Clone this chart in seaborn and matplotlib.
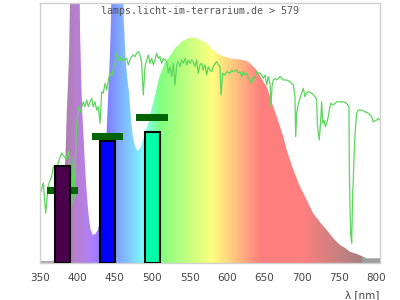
import numpy as np
import matplotlib
matplotlib.use("Agg")
import matplotlib.pyplot as plt
import seaborn as sns
import pandas as pd

# ---- data ----
lamp_nm = [350, 368, 371, 375, 379, 382, 384.5, 385.8, 387.3, 388.8, 389.8, 391.5, 394, 397, 400,
           402, 403.5, 405, 406.5, 408, 409.5, 411.5, 413.5, 415.5, 417.5, 420.5, 424, 427, 429.3,
           432, 435, 437.5, 439, 440.5, 442, 443.5, 445, 447, 451, 456, 460, 461.8, 463.2, 464.6,
           466, 467.5, 469, 470.5, 472, 474, 476.5, 478.5, 480.5, 482.5, 485, 488, 491.2, 495.6,
           497.8, 502.2, 506.6, 509.5, 513.2, 516, 519.8, 526.4, 530.9, 535.3, 539.3, 544.2, 550.5,
           559.5, 563.9, 572.9, 577.3, 581.3, 590.7, 604, 617.4, 626.4, 630.8, 639.7, 648.6, 653.1,
           657.5, 661.9, 666.5, 670.9, 675.3, 679.8, 684.3, 688.7, 697.6, 706.6, 715.4, 724.4,
           733.3, 742.2, 751.1, 757.8, 764.5, 773.4, 782.3, 786.8, 804.6]
lamp_val = [0.008, 0.008, 0.03, 0.08, 0.16, 0.28, 0.45, 0.58, 0.68, 0.80, 0.95, 1.4, 1.8, 2.0, 1.9,
            1.4, 0.9, 0.72, 0.58, 0.5, 0.41, 0.31, 0.23, 0.17, 0.13, 0.108, 0.112, 0.125, 0.146,
            0.2, 0.3, 0.43, 0.5, 0.6, 0.7, 0.8, 0.95, 1.3, 1.6, 1.6, 1.3, 0.95, 0.86, 0.78,
            0.73, 0.69, 0.66, 0.60, 0.54, 0.49, 0.455, 0.44, 0.432, 0.435, 0.447, 0.475, 0.51, 0.543,
            0.577, 0.627, 0.678, 0.715, 0.742, 0.765, 0.781, 0.807, 0.828, 0.838, 0.852, 0.858, 0.867,
            0.865, 0.858, 0.846, 0.832, 0.819, 0.800, 0.787, 0.783, 0.777, 0.768, 0.742, 0.697, 0.678,
            0.640, 0.601, 0.563, 0.524, 0.486, 0.435, 0.396, 0.358, 0.294, 0.242, 0.190, 0.157,
            0.127, 0.095, 0.069, 0.058, 0.043, 0.035, 0.024, 0.018, 0.018]

sun_nm = [351.3, 354.4, 357.6, 361.1, 365.6, 367.8, 372, 376, 379, 382, 385, 388, 390.5, 392.5,
          394.5, 396.5, 398, 399.1, 401.2, 404, 407.9, 410.2, 412.4, 414.6, 416.9, 419.1, 421.3,
          423.5, 425.8, 428.0, 430.2, 432.5, 434.6, 436.9, 439.2, 441.3, 443.6, 445.9, 448.0,
          450.3, 452.5, 454.7, 457.0, 459.2, 461.4, 463.6, 465.9, 468.1, 470.3, 472.6, 474.7,
          477.0, 479.3, 481.4, 483.7, 486.0, 488.1, 490.4, 492.7, 494.8, 497.1, 499.3, 501.5,
          503.8, 506.0, 508.2, 510.4, 512.7, 514.9, 517.1, 519.4, 521.5, 523.8, 526.1, 528.2,
          530.5, 532.8, 534.9, 537.2, 539.4, 541.6, 543.9, 546.1, 548.3, 550.6, 552.8, 555.0,
          557.2, 559.5, 561.6, 563.9, 566.2, 568.3, 570.6, 572.9, 575.0, 577.3, 579.6, 581.7,
          584.0, 586.3, 588.4, 590.7, 592.0, 594.3, 597.3, 599.6, 604.0, 606.3, 608.4, 613.0,
          615.1, 617.4, 619.7, 621.8, 624.1, 626.4, 628.5, 630.8, 633.0, 635.2, 637.5, 639.7,
          641.9, 644.1, 646.4, 648.6, 650.8, 653.1, 655.2, 657.5, 658.8, 660.2, 661.9, 664.2,
          666.5, 670.9, 675.3, 679.8, 684.3, 688.7, 690.9, 691.9, 693.2, 695.4, 697.6, 699.9,
          702.0, 704.3, 706.6, 708.7, 713.3, 717.7, 719.9, 720.8, 722.1, 723.4, 725.3, 726.6,
          728.0, 729.7, 731.5, 733.3, 735.5, 736.8, 738.7, 742.2, 746.7, 751.1, 755.5, 760.0,
          763.1, 763.5, 764.5, 765.4, 766.7, 768.1, 768.9, 770.2, 771.6, 773.4, 775.5, 780.0,
          784.5, 788.9, 793.5, 795.6, 800.2, 802.3, 804.6]
sun_val = [0.274, 0.308, 0.192, 0.300, 0.332, 0.370, 0.36, 0.40, 0.423, 0.41, 0.40, 0.43, 0.37, 0.22,
           0.41, 0.25, 0.47, 0.538, 0.601, 0.58, 0.620, 0.601, 0.627, 0.601, 0.620, 0.633, 0.601,
           0.620, 0.588, 0.601, 0.537, 0.659, 0.653, 0.691, 0.665, 0.704, 0.730, 0.717, 0.749,
           0.768, 0.807, 0.781, 0.794, 0.774, 0.787, 0.781, 0.787, 0.762, 0.781, 0.794, 0.800,
           0.794, 0.807, 0.813, 0.800, 0.768, 0.646, 0.755, 0.781, 0.800, 0.768, 0.787, 0.762,
           0.781, 0.807, 0.787, 0.794, 0.768, 0.787, 0.781, 0.774, 0.730, 0.755, 0.717, 0.768,
           0.685, 0.762, 0.774, 0.755, 0.781, 0.768, 0.787, 0.762, 0.781, 0.768, 0.781, 0.774,
           0.755, 0.781, 0.730, 0.762, 0.768, 0.742, 0.762, 0.723, 0.755, 0.742, 0.736, 0.755,
           0.768, 0.774, 0.762, 0.755, 0.646, 0.730, 0.723, 0.736, 0.730, 0.742, 0.736, 0.742,
           0.730, 0.736, 0.717, 0.736, 0.723, 0.730, 0.710, 0.704, 0.691, 0.717, 0.710, 0.736,
           0.730, 0.730, 0.723, 0.710, 0.723, 0.685, 0.717, 0.691, 0.601, 0.678, 0.704, 0.710,
           0.704, 0.717, 0.704, 0.704, 0.697, 0.685, 0.640, 0.486, 0.576, 0.614, 0.633, 0.653,
           0.672, 0.640, 0.653, 0.659, 0.653, 0.640, 0.627, 0.537, 0.499, 0.473, 0.550, 0.620,
           0.537, 0.550, 0.524, 0.537, 0.563, 0.588, 0.614, 0.608, 0.620, 0.620, 0.620, 0.614,
           0.601, 0.370, 0.217, 0.114, 0.076, 0.268, 0.319, 0.435, 0.512, 0.576, 0.588, 0.588,
           0.582, 0.576, 0.563, 0.543, 0.550, 0.556, 0.550]

bar_nm = [380, 440, 500]
bar_val = [0.375, 0.47, 0.504]
bar_colors = ["#4b004b", "#0000ff", "#00ffa8"]
mark_val = [0.28, 0.487, 0.56]

tick_vals = [350, 400, 450, 500, 550, 600, 650, 700, 750, 800]
title_text = "lamps.licht-im-terrarium.de > 579"
xlabel_text = "λ [nm]"

XMIN, XMAX = 350, 804.6


def spectral_rgb(w):
    if w < 380:
        return (0.70, 0.65, 0.70)
    if w > 781:
        return (0.62, 0.62, 0.62)
    if w < 440:
        r, g, b = -(w - 440) / 60, 0.0, 1.0
    elif w < 490:
        r, g, b = 0.0, (w - 440) / 50, 1.0
    elif w < 510:
        r, g, b = 0.0, 1.0, -(w - 510) / 20
    elif w < 580:
        r, g, b = (w - 510) / 70, 1.0, 0.0
    elif w < 645:
        r, g, b = 1.0, -(w - 645) / 65, 0.0
    else:
        r, g, b = 1.0, 0.0, 0.0
    f = 1.0
    if w < 420:
        f = 0.3 + 0.7 * (w - 380) / 40
    elif w > 700:
        f = 0.3 + 0.7 * (780 - w) / 80
    return (0.5 + 0.5 * r * f, 0.5 + 0.5 * g * f, 0.5 + 0.5 * b * f)


sns.set_theme(style="white")
plt.rcParams['font.family'] = ['DejaVu Sans']

fig = plt.figure(figsize=(4, 3), dpi=100)
ax = fig.add_axes([40 / 400, 37 / 300, 340 / 400, 260 / 300])

# lamp spectrum: rainbow gradient clipped by the spectrum outline
poly = ax.fill_between(lamp_nm, lamp_val, 0, color='none', lw=0, zorder=0.5)
grad_wl = np.linspace(XMIN, XMAX, 910)
img = np.array([[spectral_rgb(w) for w in grad_wl]])
im = ax.imshow(img, extent=[XMIN, XMAX, 0, 1], aspect='auto', origin='lower',
               interpolation='nearest', zorder=0.5)
im.set_clip_path(poly.get_paths()[0], transform=ax.transData)

# sunlight reference line
sun_df = pd.DataFrame({"nm": sun_nm, "val": sun_val})
sns.lineplot(data=sun_df, x="nm", y="val", ax=ax, color="#5cd65c", linewidth=0.9,
             estimator=None, sort=False)
for ln in ax.lines:
    ln.set_zorder(2.5)

# markers (behind bars)
ax.bar(bar_nm, [0.027] * 3, bottom=[m - 0.0135 for m in mark_val], width=42,
       color="#006400", linewidth=0, zorder=3)
# bars
ax.bar(bar_nm, bar_val, width=20, color=bar_colors, edgecolor="black", linewidth=1.5, zorder=4)

ax.set_xlim(XMIN, XMAX)
ax.set_ylim(0, 1)
ax.set_xticks(tick_vals)
ax.set_yticks([])
ax.set_xlabel("")
ax.set_ylabel("")
ax.tick_params(axis='x', length=0, pad=7, labelsize=7.5, labelcolor="#444444")
for s in ax.spines.values():
    s.set_color("#d0d0d0")
    s.set_linewidth(1)
    s.set_visible(True)

fig.text(200 / 400, 1 - 11 / 300, title_text, ha='center', va='center',
         family='DejaVu Sans Mono', fontsize=7.2, color='#555555')
fig.text(379 / 400, 1 - 295 / 300, xlabel_text, ha='right', va='center',
         fontsize=7.5, color='#444444')

fig.savefig("out.png", dpi=100)
